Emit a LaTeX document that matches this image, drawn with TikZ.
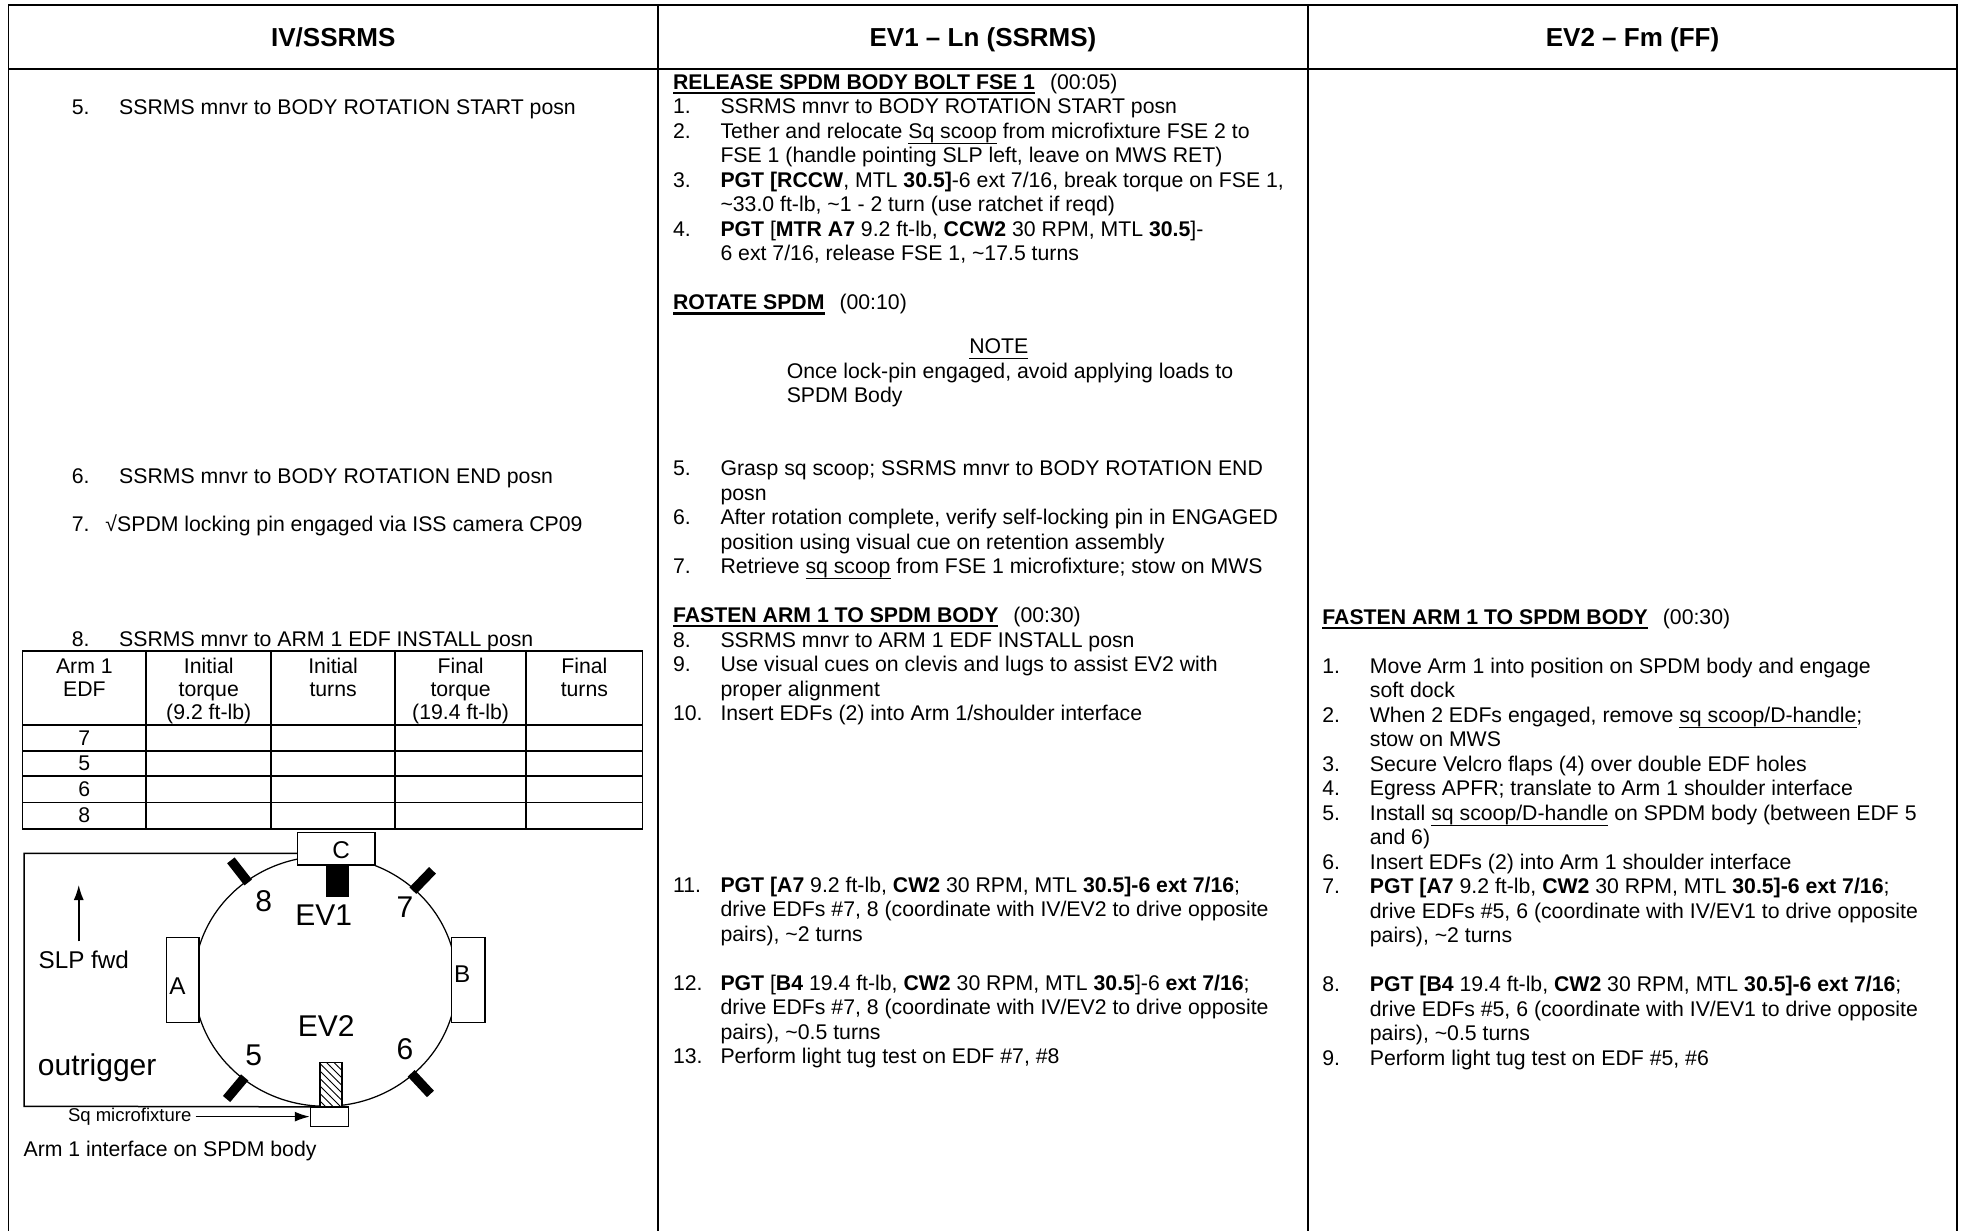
\documentclass[tikz,border=0pt]{standalone}
\usepackage{fontspec}
\setmainfont{Liberation Sans}
\usetikzlibrary{shapes.geometric,patterns,arrows.meta,calc}

\newcommand{\corps}{\fontsize{8.5}{9.8}\selectfont}
\newcommand{\grand}{\fontsize{12}{14}\selectfont}
\newcommand{\moyen}{\fontsize{9.7}{11}\selectfont}
\newcommand{\petit}{\fontsize{7.4}{8.5}\selectfont}
\newcommand{\souligne}[1]{\setbox0\hbox{#1}\rlap{\rule[-2.3pt]{\wd0}{0.45pt}}\box0\relax}
\newcommand{\titre}[2]{\setbox0\hbox{\textbf{#1}}\rlap{\rule[-1.9pt]{\wd0}{0.9pt}}\box0\relax\hspace{6pt}(#2)}
\newcommand{\etape}[3][19pt]{\begin{tabular}{@{}p{#1}@{}l@{}}#2 & #3\end{tabular}}

\begin{document}
\begin{tikzpicture}[x=0.5pt, y=-0.5pt,
    trait/.style={line width=0.7pt},
    texte/.style={anchor=north west, inner sep=0pt, yshift=3.8pt, font=\corps},
    entete/.style={anchor=base, inner sep=0pt, font=\fontsize{10.4}{12}\selectfont\bfseries},
    cellule/.style={anchor=north, inner sep=0pt, yshift=3.4pt, font=\fontsize{8.5}{9.2}\selectfont},
    chiffre/.style={inner sep=0pt, font=\corps},
    boite/.style={draw, fill=white, line width=0.6pt, inner sep=0pt},
    lettre/.style={inner sep=0pt, font=\moyen},
    repere/.style={inner sep=0pt, font=\grand},
    edf/.style={line width=3.8pt},
    fleche/.style={line width=0.6pt, -{Latex[length=6pt,width=4pt]}}]

  \useasboundingbox (0,0) rectangle (1568.8,984.8);

  % Le cadre
  \draw[trait] (6.8,984.8) -- (6.8,4) -- (1565.6,4) -- (1565.6,984.8);
  \draw[trait] (6.8,55.2) -- (1565.6,55.2);
  \foreach \x in {526.4,1046.4}
    \draw[trait] (\x,4) -- (\x,984.8);

  % Les en-tetes
  \node[entete] (tete1) at (266.6,37) {IV/SSRMS};
  \node[entete] (tete2) at (786.4,37) {EV1 \textendash{} Ln (SSRMS)};
  \node[entete] (tete3) at (1306,37) {EV2 \textendash{} Fm (FF)};

  % Colonne IV/SSRMS
  \node[texte] (iv5) at (57,85) {\etape{5.}{SSRMS mnvr to BODY ROTATION START posn}};
  \node[texte] (iv6) at (57,380) {\etape{6.}{SSRMS mnvr to BODY ROTATION END posn}};
  \node[texte] (iv7) at (57,419) {\etape[13.5pt]{7.}{√SPDM locking pin engaged via ISS camera CP09}};
  \node[texte] (iv8) at (57,511) {\etape{8.}{SSRMS mnvr to ARM 1 EDF INSTALL posn}};

  % Le tableau
  \draw[trait] (18,521) rectangle (514,663);
  \foreach \x in {117,217,316,421}
    \draw[trait] (\x,521) -- (\x,663);
  \foreach \y in {580,601,621,642}
    \draw[trait] (18,\y) -- (514,\y);
  \foreach \x/\t [count=\i] in {67.5/{Arm 1\\EDF}, 167/{Initial\\torque\\(9.2 ft-lb)},
      266.5/{Initial\\turns}, 368.5/{Final\\torque\\(19.4 ft-lb)}, 467.5/{Final\\turns}}
    \node[cellule] (col\i) at (\x,532) {\begin{tabular}{@{}c@{}}\t\end{tabular}};
  \foreach \n/\y in {7/590.5, 5/611, 6/631.5, 8/652.5}
    \node[chiffre] (ligne\n) at (67.5,\y) {\n};

  % Le schema
  \node[draw, ellipse, line width=0.5pt, inner sep=0pt, minimum width=105pt,
        minimum height=100pt] (spdm) at (260.3,785) {};
  \foreach \a in {128,46,-130,-47}
    \draw[edf] ($(spdm.center)!0.98!(spdm.\a)$) -- ($(spdm.center)!1.2!(spdm.\a)$);
  \node[boite, minimum width=13pt, minimum height=34pt] (boiteA) at (146,784) {};
  \node[boite, minimum width=13.5pt, minimum height=34pt] (boiteB) at (374.5,784) {};
  \node[boite, minimum width=31pt, minimum height=13pt] (boiteC) at (269,679) {};
  \node[fill=black, inner sep=0pt, minimum width=9pt, minimum height=12.5pt] (verrou) at (270,705) {};
  \node[draw, line width=0.6pt, inner sep=0pt, preaction={fill=white}, pattern=north west lines,
        minimum width=8.7pt, minimum height=17.5pt] (scoop) at (264.7,867.5) {};
  \node[boite, minimum width=15.2pt, minimum height=7.7pt] (micro) at (263.6,893.3) {};

  % outrigger
  \coordinate (haut) at (19.2,682.6);
  \coordinate (bas) at (19.2,885);
  \draw[line width=0.6pt] (boiteC.west |- haut) -- (haut) -- (bas) -- (spdm.south);

  \node[lettre] (la) at (142,789) {A};
  \node[lettre] (lb) at (369.7,779) {B};
  \node[lettre] (lc) at (273,680) {C};
  \node[repere] (n8) at (211,721) {8};
  \node[repere] (lev1) at (259,732) {EV1};
  \node[repere] (n7) at (324,726) {7};
  \node[repere] (lev2) at (261,821) {EV2};
  \node[repere] (n5) at (203,844) {5};
  \node[repere] (n6) at (324,839) {6};
  \node[repere, anchor=west] (outrigger) at (30,854) {outrigger};

  \node[lettre] (slp) at (67,768) {SLP fwd};
  \coordinate (pied) at (63,753);
  \coordinate (fwd) at (63,708);
  \draw[fleche] (pied) -- (fwd);

  \node[inner sep=0pt, font=\petit, anchor=west] (smf) at (54,893) {Sq microfixture};
  \draw[fleche, shorten <=1.5pt] (smf.east |- micro.west) -- (micro.west);

  \node[texte] (legende) at (18.5,918.6) {\strut Arm 1 interface on SPDM body};

  % Colonne EV1
  \node[texte] (ev1haut) at (538,65) {\begin{tabular}{@{}p{19pt}@{}l@{}}
    \multicolumn{2}{@{}l@{}}{\titre{RELEASE SPDM BODY BOLT FSE 1}{00:05}}\\
    1. & SSRMS mnvr to BODY ROTATION START posn\\
    2. & Tether and relocate \souligne{Sq scoop} from microfixture FSE 2 to\\
       & FSE 1 (handle pointing SLP left, leave on MWS RET)\\
    3. & \textbf{PGT [RCCW}, MTL \textbf{30.5]}-6 ext 7/16, break torque on FSE 1,\\
       & \textasciitilde33.0 ft-lb, \textasciitilde1 - 2 turn (use ratchet if reqd)\\
    4. & \textbf{PGT} [\textbf{MTR A7} 9.2 ft-lb, \textbf{CCW2} 30 RPM, MTL \textbf{30.5}]-\\
       & 6 ext 7/16, release FSE 1, \textasciitilde17.5 turns\\
    \\
    \multicolumn{2}{@{}l@{}}{\titre{ROTATE SPDM}{00:10}}
  \end{tabular}};

  \node[texte] (note) at (775,276) {\strut\souligne{NOTE}};
  \node[texte] (notetxt) at (629,296) {\begin{tabular}{@{}l@{}}Once lock-pin engaged, avoid applying loads to\\SPDM Body\end{tabular}};

  \node[texte] (ev1bas) at (538,374) {\begin{tabular}{@{}p{19pt}@{}l@{}}
    5. & Grasp sq scoop; SSRMS mnvr to BODY ROTATION END\\
       & posn\\
    6. & After rotation complete, verify self-locking pin in ENGAGED\\
       & position using visual cue on retention assembly\\
    7. & Retrieve \souligne{sq scoop} from FSE 1 microfixture; stow on MWS\\
    \\
    \multicolumn{2}{@{}l@{}}{\titre{FASTEN ARM 1 TO SPDM BODY}{00:30}}\\
    8. & SSRMS mnvr to ARM 1 EDF INSTALL posn\\
    9. & Use visual cues on clevis and lugs to assist EV2 with\\
       & proper alignment\\
    10. & Insert EDFs (2) into Arm 1/shoulder interface\\
    \\ \\ \\ \\ \\ \\
    11. & \textbf{PGT [A7} 9.2 ft-lb, \textbf{CW2} 30 RPM, MTL \textbf{30.5]-6 ext 7/16};\\
       & drive EDFs \#7, 8 (coordinate with IV/EV2 to drive opposite\\
       & pairs), \textasciitilde2 turns\\
    \\
    12. & \textbf{PGT} [\textbf{B4} 19.4 ft-lb, \textbf{CW2} 30 RPM, MTL \textbf{30.5}]-6 \textbf{ext 7/16};\\
       & drive EDFs \#7, 8 (coordinate with IV/EV2 to drive opposite\\
       & pairs), \textasciitilde0.5 turns\\
    13. & Perform light tug test on EDF \#7, \#8
  \end{tabular}};

  % Colonne EV2
  \node[texte] (ev2txt) at (1057.5,493) {\begin{tabular}{@{}p{19pt}@{}l@{}}
    \multicolumn{2}{@{}l@{}}{\titre{FASTEN ARM 1 TO SPDM BODY}{00:30}}\\
    \\
    1. & Move Arm 1 into position on SPDM body and engage\\
       & soft dock\\
    2. & When 2 EDFs engaged, remove \souligne{sq scoop/D-handle};\\
       & stow on MWS\\
    3. & Secure Velcro flaps (4) over double EDF holes\\
    4. & Egress APFR; translate to Arm 1 shoulder interface\\
    5. & Install \souligne{sq scoop/D-handle} on SPDM body (between EDF 5\\
       & and 6)\\
    6. & Insert EDFs (2) into Arm 1 shoulder interface\\
    7. & \textbf{PGT [A7} 9.2 ft-lb, \textbf{CW2} 30 RPM, MTL \textbf{30.5]-6 ext 7/16};\\
       & drive EDFs \#5, 6 (coordinate with IV/EV1 to drive opposite\\
       & pairs), \textasciitilde2 turns\\
    \\
    8. & \textbf{PGT [B4} 19.4 ft-lb, \textbf{CW2} 30 RPM, MTL \textbf{30.5]-6 ext 7/16};\\
       & drive EDFs \#5, 6 (coordinate with IV/EV1 to drive opposite\\
       & pairs), \textasciitilde0.5 turns\\
    9. & Perform light tug test on EDF \#5, \#6
  \end{tabular}};
\end{tikzpicture}
\end{document}
